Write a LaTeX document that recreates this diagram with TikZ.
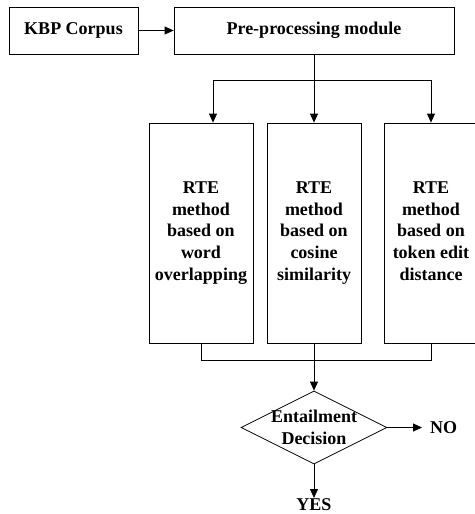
\documentclass[tikz,border=0pt]{standalone}
\usepackage{fontspec}
\setmainfont{Liberation Serif}
\usetikzlibrary{shapes.geometric,arrows.meta}
\begin{document}
\begin{tikzpicture}[x=1pt,y=-1pt,
  every node/.style={font=\fontsize{18}{21.6}\selectfont\bfseries},
  box/.style={draw, line width=0.8pt, inner sep=0pt, align=center},
  arr/.style={line width=0.8pt, -{Triangle[length=9pt,width=8pt]}},
  ln/.style={line width=0.8pt}]
\useasboundingbox (0,0) rectangle (474,514);
\node[box, minimum width=129pt, minimum height=47pt] (kbp) at (73.5,30.5) {KBP Corpus};
\node[box, minimum width=280pt, minimum height=47pt] (pre) at (314,30.5) {Pre-processing module};
\node[box, minimum width=104pt, minimum height=220pt] (left) at (201,233) {RTE\\method\\based on\\word\\overlapping};
\node[box, minimum width=94pt, minimum height=220pt] (mid) at (314,233) {RTE\\method\\based on\\cosine\\similarity};
\node[box, minimum width=94pt, minimum height=220pt] (right) at (431,233) {RTE\\method\\based on\\token edit\\distance\vphantom{y}};
\node[draw, diamond, line width=0.8pt, minimum width=146pt, minimum height=73pt, inner sep=0pt] (dec) at (314,427.5) {};
\node[align=center, inner sep=0pt] (dectext) at (dec.center) {Entailment\\Decision};
\node[inner sep=0pt, anchor=west] (no) at (430,427.5) {NO};
\node[inner sep=0pt, anchor=north] (yes) at (314,498) {YES};
\coordinate (split) at (314,80);
\coordinate (la) at (213,80);
\coordinate (ra) at (431,80);
\coordinate (jl) at (201,360);
\coordinate (jr) at (431,360);
\draw[arr] (kbp) -- (pre);
\draw[ln] (pre.south) -- (split);
\draw[ln] (la) -- (ra);
\draw[arr] (la) -- (la |- left.north);
\draw[arr] (split) -- (mid.north);
\draw[arr] (ra) -- (right.north);
\draw[ln] (left.south) -- (jl) -- (jr) -- (right.south);
\draw[arr] (mid.south) -- (dec.north);
\draw[arr] (dec.east) -- ([xshift=-8pt]no.west);
\draw[arr] (dec.south) -- (yes.north);
\end{tikzpicture}
\end{document}
